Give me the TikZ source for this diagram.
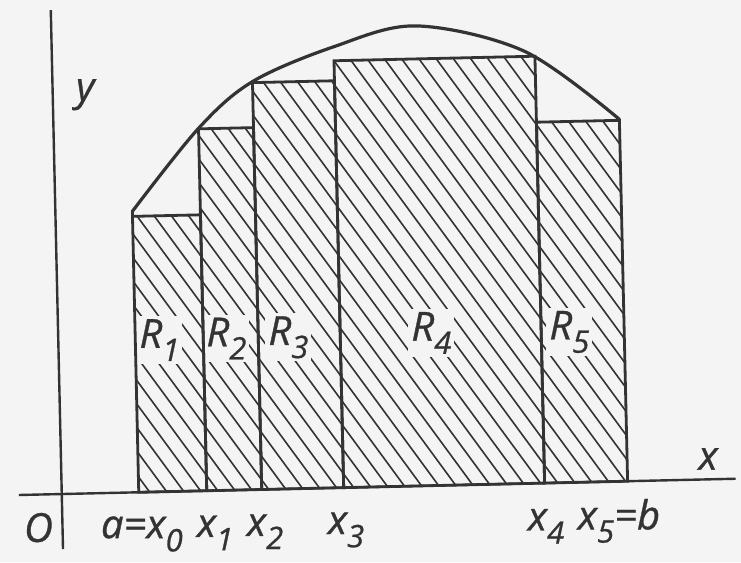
\documentclass[tikz,border=0pt]{standalone}
\usepackage{fontspec}
\setmainfont{Open Sans}
\newfontfamily\lblfont{Open Sans}[FakeBold=0.8]
\definecolor{ink}{HTML}{333333}
\definecolor{paper}{HTML}{F4F4F4}
\newcommand\sbs[1]{\raisebox{-0.33em}{\fontsize{31}{31}\selectfont #1}}
\begin{document}
\begin{tikzpicture}[x=1pt,y=-1pt,
  outline/.style={draw=ink, line width=2.8pt, line join=miter},
  hatchline/.style={draw=ink, line width=1.6pt},
  curveline/.style={draw=ink, line width=3.2pt, line cap=round},
  axisline/.style={draw=ink, line width=2.4pt},
  rlabel/.style={fill=paper, inner sep=3pt, text=ink, anchor=base, font=\lblfont\itshape\fontsize{40}{40}\selectfont},
  tlabel/.style={inner sep=0pt, text=ink, anchor=base west, font=\lblfont\itshape\fontsize{40}{40}\selectfont}
]
\fill[paper] (0,0) rectangle (741,562);
\useasboundingbox (0,0) rectangle (741,562);
\begin{scope}[rotate around={1.3:(370,281)}]
  % axes
  \coordinate (xl) at (14,487);
  \coordinate (xr) at (731,487);
  \coordinate (yt) at (57,3);
  \coordinate (yb) at (57,542);
  \draw[axisline] (xl) -- (xr);
  \draw[axisline] (yb) -- (yt);
  % hatching
  \foreach \xa/\xb/\yt in {134/202/211, 202/257/125, 257/339/80, 339/540/60, 540/623/126}{
    \begin{scope}
      \clip (\xa,\yt) rectangle (\xb,487);
      \foreach \s in {-400,-383,...,700} \draw[hatchline] (\s,0) -- ++(350,500);
    \end{scope}
  }
  % labels inside rectangles
  \node[rlabel] (lR1) at (158,343) {R\sbs{1}};
  \node[rlabel] (lR2) at (225,343) {R\sbs{2}};
  \node[rlabel] (lR3) at (287,343) {R\sbs{3}};
  \node[rlabel] (lR4) at (430,342) {R\sbs{4}};
  \node[rlabel] (lR5) at (568,344) {R\sbs{5}};
  % rectangle outlines
  \foreach \xa/\xb/\yt in {134/202/211, 202/257/125, 257/339/80, 339/540/60, 540/623/126}{
    \draw[outline] (\xa,\yt) rectangle (\xb,487);
  }
  \draw[outline] (134,212) -- (134,206);
  % curve
  \draw[curveline] plot[smooth, tension=0.55] coordinates
    {(134,206) (202,124.5) (257,79) (339,46) (422,27) (530,55) (623,125)};
  % axis and point labels
  \node[tlabel] (ly) at (80,94) {y};
  \node[tlabel] (lx) at (694,477) {x};
  \node[tlabel] (lO) at (18,534) {O};
  \node[tlabel] (lx0) at (95,532) {a=x\sbs{0}};
  \node[tlabel] (lx1) at (191,533) {x\sbs{1}};
  \node[tlabel] (lx2) at (241,533) {x\sbs{2}};
  \node[tlabel] (lx3) at (322,533) {x\sbs{3}};
  \node[tlabel] (lx4) at (522,534) {x\sbs{4}};
  \node[tlabel] (lx5) at (572,534) {x\sbs{5}=b};
\end{scope}
\end{tikzpicture}
\end{document}
